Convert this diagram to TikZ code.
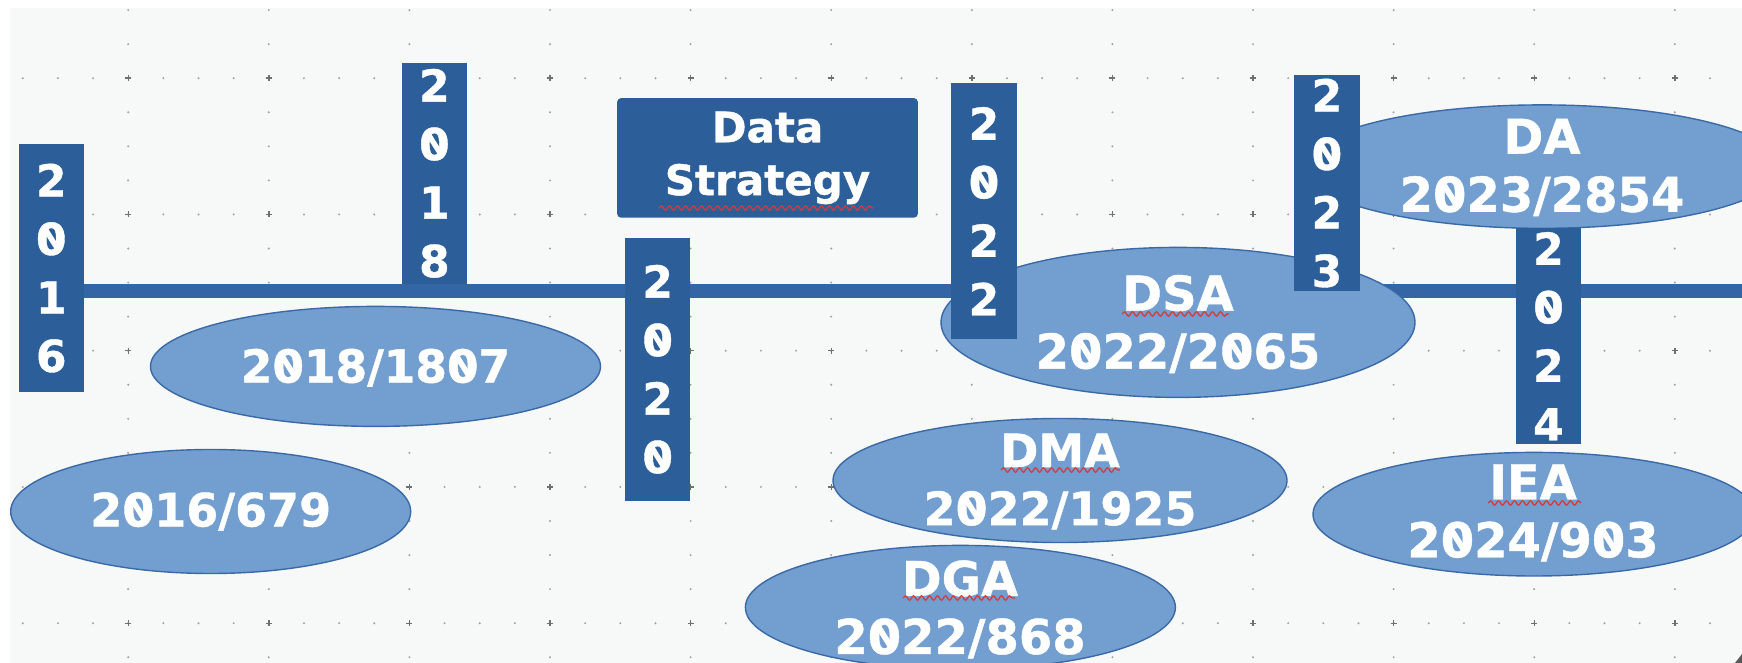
\documentclass[tikz,border=0pt]{standalone}
\usepackage{fontspec}
\setmainfont{DejaVu Sans}[BoldFeatures={FakeBold=0.9}]
\usetikzlibrary{shapes.geometric,decorations.pathmorphing}
\definecolor{boxblue}{HTML}{2C5F99}
\definecolor{lineblue}{HTML}{3465A4}
\definecolor{bubblefill}{HTML}{729FCF}
\definecolor{bubbleedge}{HTML}{3A69A8}
\definecolor{bgpanel}{HTML}{F7F8F8}
\definecolor{dotgray}{HTML}{A0A0A0}
\definecolor{dotdark}{HTML}{707070}
\definecolor{squigglered}{HTML}{D23C3C}
\newlength\zrw
\newcommand\zr{\settowidth\zrw{0}\makebox[\zrw][c]{0}\hspace*{-\zrw}\makebox[\zrw][c]{\raisebox{0.365em}{\rotatebox[origin=c]{-58}{\rule[-0.06em]{0.5em}{0.12em}}}}}
\begin{document}
\begin{tikzpicture}[x=0.5pt,y=-0.5pt,
  yearbox/.style={rectangle, fill=boxblue, draw=none, minimum width=32.75pt, inner sep=0pt,
    text=white, align=center, font=\fontsize{22}{29.25}\selectfont\bfseries},
  titlebox/.style={rectangle, rounded corners=2pt, fill=boxblue, draw=none, inner sep=0pt,
    text=white, align=center, font=\fontsize{21}{26.4}\selectfont\bfseries},
  bubble/.style={ellipse, fill=bubblefill, draw=bubbleedge, line width=0.7pt, inner sep=0pt},
  bubbletext/.style={text=white, align=center, inner sep=0pt, font=\fontsize{#1}{29}\selectfont\bfseries},
  bubbletext/.default=23,
  spell/.style={draw=squigglered, line width=0.65pt, decorate, decoration={snake, amplitude=1.1pt, segment length=4pt}},
  timeline/.style={draw=lineblue, line width=7pt}
]
\useasboundingbox (0,0) rectangle (1742,663);
\fill[white] (0,0) rectangle (1742,663);
\fill[bgpanel] (9.6,7.6) rectangle (1742,663);
% dotted grid
\foreach \k in {0,...,4}{\foreach \i in {0,...,48}{\fill[dotgray] ({22.75+35.15*\i},{78.2+136.25*\k}) circle[radius=0.55pt];}}
\foreach \k in {0,...,11}{\foreach \j in {0,...,19}{\fill[dotgray] ({128.2+140.6*\k},{10.1+34.06*\j}) circle[radius=0.55pt];}}
\foreach \k in {0,...,11}{\foreach \m in {0,...,4}{
  \draw[dotdark, line width=0.7pt] ({128.2+140.6*\k-3},{78.2+136.25*\m}) -- ({128.2+140.6*\k+3},{78.2+136.25*\m})
    ({128.2+140.6*\k},{78.2+136.25*\m-3}) -- ({128.2+140.6*\k},{78.2+136.25*\m+3});}}
\fill[dotdark!80!black] (1735,663) -- (1742,654) -- (1742,663) -- cycle;
% timeline
\coordinate (tlstart) at (60,291);
\coordinate (tlend) at (1742,291);
\draw[timeline] (tlstart) -- (tlend);
% ellipses
\node[bubble, minimum width=200pt, minimum height=62pt] (e2016) at (210.7,511.5) {};
\node[bubble, minimum width=225pt, minimum height=60pt] (e2018) at (375.5,366.4) {};
\node[bubble, minimum width=215pt, minimum height=62pt] (edga) at (960.4,607.4) {};
\node[bubble, minimum width=227pt, minimum height=62pt] (edma) at (1060,480.5) {};
\node[bubble, minimum width=237pt, minimum height=75pt] (edsa) at (1178,322.4) {};
\node[bubble, minimum width=240pt, minimum height=61.7pt] (eda) at (1542,166.6) {};
\node[bubble, minimum width=221pt, minimum height=61.8pt] (eiea) at (1534,514.2) {};
% year boxes
\node[yearbox, minimum height=124.3pt] (b2016) at (51.3,268.1) {2\\\zr\\1\\6};
\node[yearbox, minimum height=110.7pt] (b2018) at (434.4,173.3) {2\\\zr\\1\\8};
\node[yearbox, minimum height=131.7pt] (b2020) at (657.7,369.3) {2\\\zr\\2\\\zr};
\node[yearbox, minimum height=128.3pt] (b2022) at (984,211.2) {2\\\zr\\2\\2};
\node[yearbox, minimum height=107.8pt] (b2023) at (1326.9,183.1) {2\\\zr\\2\\3};
\node[yearbox, minimum height=107.85pt] (b2024) at (1548.5,336.2) {2\\\zr\\2\\4};
\node[titlebox, minimum width=150.4pt, minimum height=59.8pt] (strategy) at (767.5,157.9) {Data\\Strategy};
% ellipse texts
\node[bubbletext=23] (t2016) at (e2016.center) {2\zr16/679};
\node[bubbletext=22.7] (t2018) at ([yshift=-0.7pt]e2018.center) {2\zr18/18\zr7};
\node[bubbletext=24] (tdsa) at (1178,324) {DSA\\2\zr22/2\zr65};
\node[bubbletext=23] (tdma) at (1060,481.5) {DMA\\2\zr22/1925};
\node[bubbletext=24] (tdga) at (960,609.4) {DGA\\2\zr22/868};
\node[bubbletext=24] (tda) at (1542,167.5) {DA\\2\zr23/2854};
\node[bubbletext=24] (tiea) at (1533,513) {IEA\\2\zr24/9\zr3};
% spell-check underlines
\draw[spell] (659,208) -- (873,208);
\draw[spell] (1122,314) -- (1229,314);
\draw[spell] (1001,470) -- (1120,470);
\draw[spell] (903,598) -- (1015,598);
\draw[spell] (1488,503) -- (1581,503);
\end{tikzpicture}
\end{document}
